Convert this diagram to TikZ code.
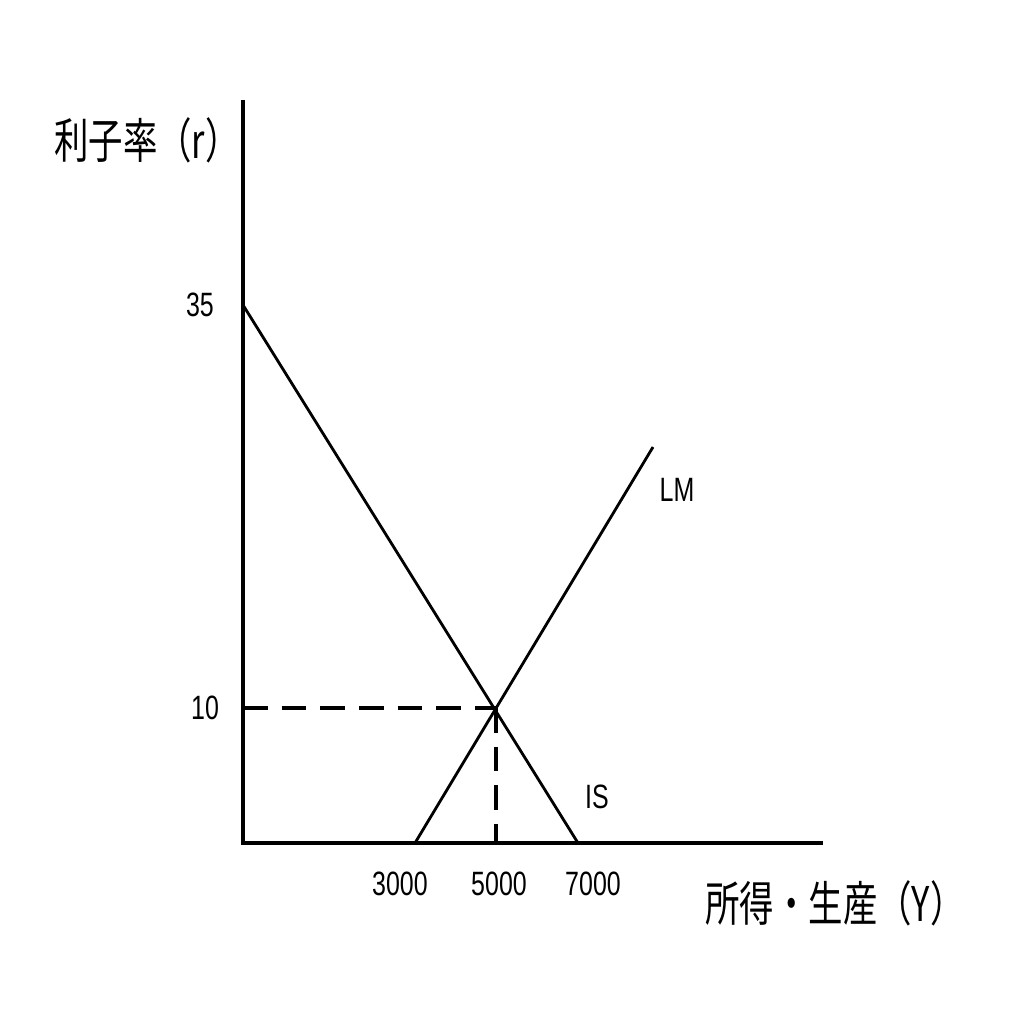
\documentclass[tikz,border=0pt]{standalone}
\usepackage{fontspec}
\newfontfamily\narrowfont[FakeStretch=0.74]{Liberation Sans}
\newfontfamily\cjkfont[FakeStretch=0.72]{Noto Sans CJK JP}
\begin{document}
\begin{tikzpicture}[x=0.025cm,y=-0.025cm,
  axis/.style={line width=2.9pt},
  curve/.style={line width=2pt},
  guide/.style={line width=2.4pt, dash pattern=on 17.5pt off 10pt},
  num/.style={font=\narrowfont\fontsize{24}{28}\selectfont, inner sep=0pt},
  title/.style={font=\cjkfont\fontsize{34}{40}\selectfont, inner sep=0pt}]
\useasboundingbox (0,0) rectangle (1036,1036);
\coordinate (O) at (243,843);
\coordinate (Ytop) at (243,100);
\coordinate (Xend) at (823,843);
\coordinate (IS0) at (243,305);
\coordinate (IS1) at (578,843);
\coordinate (LM0) at (415,843);
\coordinate (LM1) at (653,447);
\coordinate (E) at (496,708);
\coordinate (Ey) at (243,708);
\coordinate (Ex) at (496,843);
\draw[guide] (Ey) -- (E);
\draw[guide] (E) -- (Ex);
\draw[curve] (IS0) -- (IS1);
\draw[curve] (LM0) -- (LM1);
\draw[axis] (Ytop) -- (O) -- (Xend);
\node[title] (ylab) at (147,140) {利子率（r）};
\node[title] (xlab) at (835,903) {所得・生産（Y）};
\node[num] (n35) at (200,305) {35};
\node[num] (n10) at (205,708) {10};
\node[num] (n3000) at (400,884) {3000};
\node[num] (n5000) at (499,884) {5000};
\node[num] (n7000) at (593,884) {7000};
\node[num] (lLM) at (677,490) {LM};
\node[num] (lIS) at (597,797) {IS};
\end{tikzpicture}
\end{document}
